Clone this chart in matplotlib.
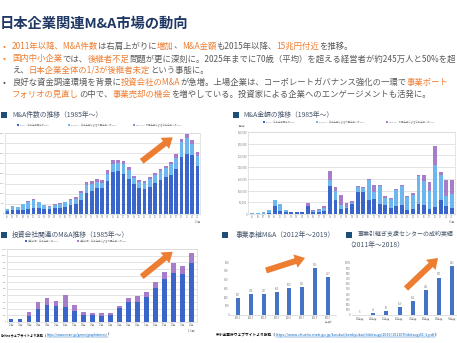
import numpy as np
import matplotlib.pyplot as plt
from matplotlib.patches import FancyArrow, Rectangle

plt.rcParams['font.family'] = ['Noto Sans CJK JP', 'DejaVu Sans']

# ---- data ----
# M&A件数 (1985-2021), IN-IN / IN-OUT / OUT-IN
cnt_years = ['85', '86', '87', '88', '89', '90', '91', '92', '93', '94', '95', '96', '97', '98', '99',
             '00', '01', '02', '03', '04', '05', '06', '07', '08', '09', '10', '11', '12', '13', '14',
             '15', '16', '17', '18', '19', '20', '21']
cnt_inin = [160, 220, 220, 220, 240, 290, 300, 240, 230, 280, 300, 350, 450, 480, 700, 1050, 1150, 1300,
            1300, 1650, 2050, 2100, 2000, 1750, 1500, 1300, 1250, 1350, 1550, 1700, 1850, 1950, 2200,
            2800, 2950, 2900, 2350]
cnt_inout = [80, 170, 130, 250, 340, 420, 270, 180, 140, 180, 190, 220, 250, 280, 320, 380, 330, 280,
             250, 340, 400, 400, 450, 400, 260, 280, 300, 380, 400, 420, 420, 500, 580, 750, 780, 550, 500]
cnt_outin = [20, 20, 20, 40, 45, 30, 40, 40, 30, 35, 40, 40, 55, 60, 100, 150, 130, 130, 130, 170, 200,
             180, 180, 170, 130, 100, 100, 100, 60, 80, 80, 120, 180, 170, 230, 180, 200]

# M&A金額 (億円)
amt_inin = [1000, 2000, 2000, 3000, 33000, 14000, 8000, 7000, 8000, 7000, 33000, 8000, 10000, 12000,
            120000, 60000, 22000, 26000, 43000, 94000, 95000, 58000, 65000, 43000, 37000, 26000, 35000,
            37000, 17000, 21000, 44000, 37000, 21000, 28000, 61000, 33000, 26000]
amt_inout = [1500, 3500, 4500, 12000, 27000, 29000, 8000, 2500, 1500, 1000, 2000, 6000, 8000, 12000,
             26000, 38000, 15000, 5000, 4000, 20000, 17000, 86000, 29000, 75000, 31000, 38000, 66000,
             81000, 54000, 60000, 117000, 103000, 78000, 182000, 104000, 43000, 60000]
amt_outin = [500, 500, 500, 1000, 1000, 1000, 1000, 500, 500, 500, 10000, 2000, 2000, 9000, 36000,
             18000, 46000, 17000, 10000, 6000, 3000, 6000, 31000, 7000, 7000, 4000, 6000, 7000, 7000,
             9000, 7000, 28000, 36000, 82000, 13000, 69000, 59000]

# 投資会社関連のM&A
fund_years = ['00年', '01年', '02年', '03年', '04年', '05年', '06年', '07年', '08年', '09年', '10年',
              '11年', '12年', '13年', '14年', '15年', '16年', '17年', '18年', '19年', '20年']
fund_in = [41, 41, 96, 203, 259, 239, 223, 173, 112, 107, 96, 112, 218, 294, 305, 376, 518, 655, 731, 716, 883]
fund_out = [0, 0, 51, 102, 101, 81, 183, 76, 35, 35, 46, 25, 21, 71, 85, 76, 81, 96, 152, 122, 163]

# 事業承継M&A
suc_years = ['2012', '2013', '2014', '2015', '2016', '2017', '2018', '2019\n(上期)']
suc_vals = [187, 236, 237, 263, 300, 321, 536, 427]

# 事業引継ぎ支援センター 成約件数
ctr_years = ['23年度', '24年度', '25年度', '26年度', '27年度', '28年度', '29年度', '30年度']
ctr_vals = [5, 42, 69, 150, 262, 481, 721, 942]

W, H = 457, 343
DARK, LIGHT, PURP = '#3A66CC', '#6DB6EE', '#A77DC9'
BLUE = '#4472C4'
OR, GR = '#ED7D31', '#595959'
GRID = '#D9D9D9'
TICK = '#7F7F7F'

fig = plt.figure(figsize=(W / 100, H / 100), dpi=100)


def ax_px(x0, y0, x1, y1):
    return fig.add_axes([x0 / W, 1 - y1 / H, (x1 - x0) / W, (y1 - y0) / H])


def stacked(ax, segs, colors, width):
    x = np.arange(len(segs[0]))
    bottom = np.zeros(len(x))
    for s, c in zip(segs, colors):
        ax.bar(x, s, width, bottom=bottom, color=c, lw=0, zorder=2)
        bottom += np.array(s)


def frame(ax, ymax, step, labels, fmt='{:.0f}', fs=1.8, yfs=1.5):
    ax.set_ylim(0, ymax)
    ax.set_yticks(np.arange(0, ymax + 1, step))
    ax.set_yticklabels([fmt.format(v) for v in np.arange(0, ymax + 1, step)])
    ax.set_xticks(range(len(labels)))
    ax.set_xticklabels(labels)
    ax.tick_params(length=0, labelsize=fs, colors=TICK, pad=1)
    ax.tick_params(axis='y', labelsize=yfs, pad=0.4)
    ax.grid(axis='y', color=GRID, lw=0.5, zorder=0)
    for s in ax.spines.values():
        s.set_color(GRID)
        s.set_linewidth(0.5)


# chart 1: counts
a1 = ax_px(5, 133, 200, 214)
stacked(a1, [cnt_inin, cnt_inout, cnt_outin], [DARK, LIGHT, PURP], 0.7)
a1.set_xlim(-0.4, 36.5)
frame(a1, 4000, 500, cnt_years[:-1] + ['21\n1-6月'])

# chart 2: amounts
a2 = ax_px(248, 132, 455, 214)
stacked(a2, [amt_inin, amt_inout, amt_outin], [DARK, LIGHT, PURP], 0.7)
a2.set_xlim(-0.8, 36.6)
frame(a2, 350000, 50000, cnt_years[:-1] + ['21\n1-6月'], fmt='{:,.0f}', yfs=1.9)

# chart 3: investment companies
a3 = ax_px(6.7, 249, 196.7, 322)
stacked(a3, [fund_in, fund_out], [DARK, PURP], 0.5)
a3.set_xlim(-0.48, 20.55)
frame(a3, 1100, 100, fund_years[:-1] + ['20年\n(1-6月)'])

# chart 4 / 5: simple bars with value labels
for box, vals, labs, ymax, step, xl in [((230.3, 262.3, 335.8, 314.5), suc_vals, suc_years, 600, 100, (-0.6, 7.6)),
                                        ((352, 263, 457, 315), ctr_vals, ctr_years, 1000, 100, (-0.6, 7.35))]:
    ax = ax_px(*box)
    x = np.arange(len(vals))
    ax.bar(x, vals, 0.31, color=BLUE, lw=0)
    for xi, v in zip(x, vals):
        ax.text(xi, v + ymax * 0.02, str(v), ha='center', va='bottom', fontsize=1.9, color=TICK)
    ax.set_xlim(*xl)
    ax.set_ylim(0, ymax)
    ax.set_yticks(np.arange(0, ymax + 1, step))
    ax.set_xticks(x)
    ax.set_xticklabels(labs)
    ax.tick_params(length=0, labelsize=2.0, colors=TICK, pad=1)
    for k in ['top', 'right', 'left']:
        ax.spines[k].set_visible(False)
    ax.spines['bottom'].set_color(GRID)
    ax.spines['bottom'].set_linewidth(0.6)

# ---- overlay for text and arrows ----
ov = fig.add_axes([0, 0, 1, 1])
ov.set_xlim(0, W)
ov.set_ylim(H, 0)
ov.axis('off')
rend = fig.canvas.get_renderer()


def rich(x, y, parts, size):
    for s, c in parts:
        t = ov.text(x, y, s, color=c, fontsize=size, va='center', ha='left')
        x += t.get_window_extent(rend).width
    return x


ov.text(0, 24, '日本企業関連M&A市場の動向', fontsize=10.3, fontweight='bold', color='#1F3864', va='center')

bfs = 6.0
ov.text(3, 46, '•', color=OR, fontsize=bfs, va='center')
rich(12, 46, [('2011年以降、M&A件数', OR), ('は右肩上がりに', GR), ('増加', OR), ('、', GR),
              ('M&A金額', OR), ('も2015年以降、', GR), ('15兆円付近', OR), ('を推移。', GR)], bfs)
ov.text(3, 59, '•', color=OR, fontsize=bfs, va='center')
rich(12, 59, [('国内中小企業', OR), ('では、', GR), ('後継者不足', OR),
              ('問題が更に深刻に。2025年までに70歳（平均）を超える経営者が約245万人と50%を超', GR)], bfs)
rich(12, 70, [('え、', GR), ('日本企業全体の1/3が後継者未定', OR), ('という事態に。', GR)], bfs)
ov.text(3, 82, '•', color='#44546A', fontsize=bfs, va='center')
rich(12, 82, [('良好な資金調達環境を背景に', GR), ('投資会社のM&A', OR),
              ('が急増。上場企業は、コーポレートガバナンス強化の一環で', GR), ('事業ポート', OR)], bfs)
rich(12, 94, [('フォリオの見直し', OR), ('の中で、', GR), ('事業売却の機会', OR),
              ('を増やしている。投資家による企業へのエンゲージメントも活発に。', GR)], bfs)

HC = '#44546A'
SQ = '#1F4E79'
for sx, sy, tx, txt, fs in [(1, 112, 12, 'M&A件数の推移（1985年～）', 4.9),
                            (233, 112, 243, 'M&A金額の推移（1985年～）', 4.9),
                            (1, 232, 12, '投資会社関連のM&A推移（1985年～）', 4.9),
                            (222, 232, 236, '事業承継M&A（2012年～2019）', 4.9),
                            (346, 232, 358, '事業引継ぎ支援センターの成約実績', 4.3)]:
    ov.add_patch(Rectangle((sx, sy), 5.5, 5.5, color=SQ, lw=0))
    ov.text(tx, sy + 2.8, txt, fontsize=fs, color=HC, va='center')
ov.text(346, 245, '（2011年～2018）', fontsize=4.9, color=HC, va='center')

lg = [(17, 125, DARK, 'IN-IN：日本企業同士のM&A'),
      (68, 125, LIGHT, 'IN-OUT：日本企業による外国企業へのM&A'),
      (133, 125, PURP, 'OUT-IN：外国企業による日本企業へのM&A'),
      (263, 122, DARK, 'IN-IN：日本企業同士のM&A'),
      (316, 122, LIGHT, 'IN-OUT：日本企業による外国企業へのM&A'),
      (386, 122, PURP, 'OUT-IN：外国企業による日本企業へのM&A'),
      (25, 241, DARK, '投資会社：日本企業へのM&A'),
      (77, 241, PURP, '投資会社：日本企業による外国企業へのM&A')]
for x, y, c, t in lg:
    ov.add_patch(Rectangle((x, y - 0.8), 1.6, 1.6, color=c, lw=0))
    ov.text(x + 2.5, y, t, fontsize=1.7, color=TICK, va='center')
ov.text(236, 126, '（億円）', fontsize=1.9, color=TICK, va='center')

for (x0, y0), (x1, y1) in [((141.7, 161.3), (172.7, 137.3)),
                           ((141.7, 276.7), (172.7, 251.7)),
                           ((266, 270.5), (305, 258)),
                           ((406, 288.5), (438, 258))]:
    ov.add_patch(FancyArrow(x0, y0, x1 - x0, y1 - y0, width=6, head_width=14, head_length=10,
                            length_includes_head=True, color=OR, lw=0))


def source(x, y, head, url, fs=2.7):
    t = ov.text(x, y, head, fontsize=fs, fontweight='bold', color='black', va='center')
    x += t.get_window_extent(rend).width
    u = ov.text(x, y, url, fontsize=fs, color='#0563C1', va='center')
    w = u.get_window_extent(rend).width
    ov.plot([x, x + w], [y + 2, y + 2], color='#0563C1', lw=0.3)
    ov.text(x + w, y, '）', fontsize=fs, fontweight='bold', color='black', va='center')


source(0.5, 335, 'Onlineウェブサイトより抜粋（', 'https://www.marr.jp/genre/graphdemos/', fs=2.3)
source(216, 335, '中小企業庁ウェブサイトより抜粋（',
       'https://www.chusho.meti.go.jp/koukai/kenkyukai/hikitsugi/2019/191107hikitsugi01-1.pdf')

fig.savefig('out.png', dpi=100)
